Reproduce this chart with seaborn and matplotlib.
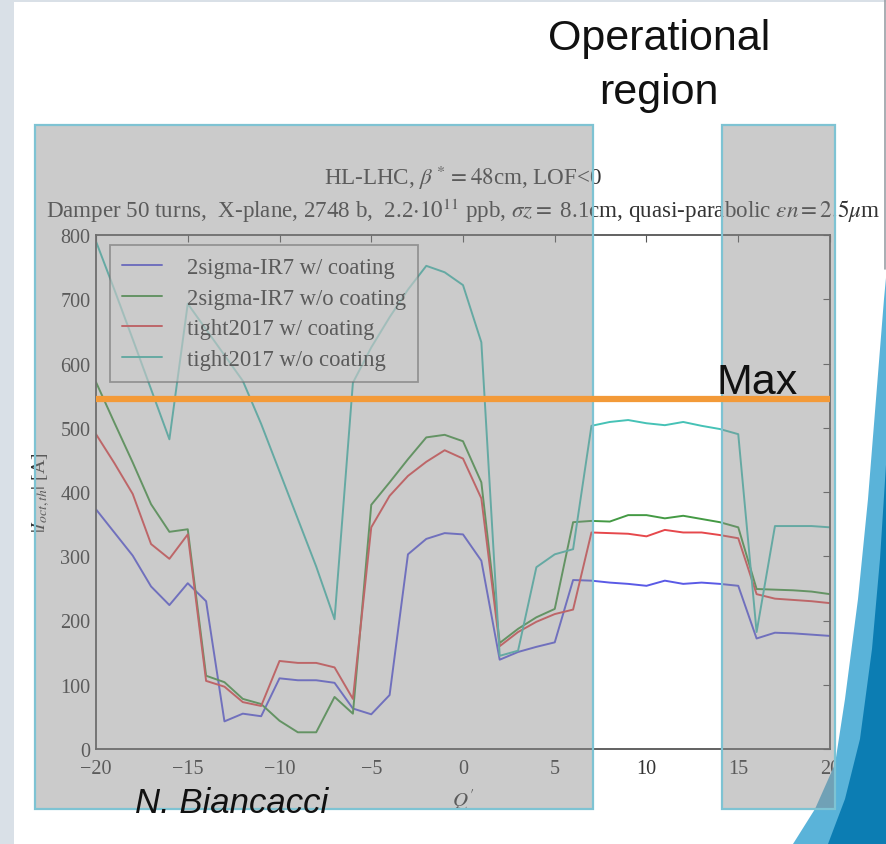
import matplotlib
matplotlib.use("Agg")
import matplotlib.pyplot as plt
import numpy as np
import pandas as pd
import seaborn as sns
from matplotlib.patches import Rectangle, Polygon
from matplotlib.lines import Line2D

# ---------------- data ----------------
q_values = [-20, -19, -18, -17, -16, -15, -14, -13, -12, -11, -10, -9, -8, -7, -6,
            -5, -4, -3, -2, -1, 0, 1, 2, 3, 4, 5, 6, 7, 8, 9, 10, 11, 12, 13, 14,
            15, 16, 17, 18, 19, 20]

ir7_coating = [373, 337, 301, 253, 224, 258, 230, 43, 55, 51, 110, 107, 107, 103, 63,
               54, 84, 303, 327, 336, 334, 293, 139, 151, 159, 166, 263, 262, 259, 257,
               254, 262, 257, 259, 257, 254, 172, 181, 180, 178, 176]

ir7_no_coating = [571, 508, 446, 381, 338, 342, 114, 104, 78, 70, 44, 26, 26, 81, 55,
                  380, 415, 451, 485, 489, 479, 415, 165, 187, 205, 218, 353, 355, 354,
                  364, 364, 359, 363, 358, 353, 345, 249, 248, 247, 245, 241]

tight_coating = [490, 445, 397, 319, 296, 334, 106, 97, 73, 67, 137, 134, 134, 127, 78,
                 345, 394, 425, 447, 465, 452, 390, 160, 182, 198, 210, 217, 337, 336,
                 335, 331, 341, 337, 337, 333, 328, 241, 234, 232, 230, 227]

tight_no_coating = [790, 715, 638, 560, 482, 693, 653, 613, 573, 506, 432, 358, 284, 202,
                    570, 625, 672, 715, 752, 742, 722, 633, 145, 153, 283, 303, 311, 503,
                    509, 512, 507, 504, 509, 503, 498, 490, 182, 347, 347, 347, 345]

series_labels = ["2sigma-IR7 w/ coating", "2sigma-IR7 w/o coating",
                 "tight2017 w/ coating", "tight2017 w/o coating"]
series_colors = ["#5a5ae6", "#449a44", "#e6484c", "#46c2b6"]
x_ticks = [-20, -15, -10, -5, 0, 5, 10, 15, 20]
y_ticks = [0, 100, 200, 300, 400, 500, 600, 700, 800]
max_level = 545

title_line1 = r"HL-LHC, $\beta^* = 48$cm, LOF<0"
title_line2 = (r"Damper 50 turns,  X-plane, 2748 b,  2.2$\cdot10^{11}$ ppb, "
               r"$\sigma z =$ 8.1cm, quasi-parabolic $\epsilon n = 2.5\mu$m")

# ---------------- styling ----------------
sns.set_theme(style="white")
plt.rcParams.update({
    "font.family": ["Liberation Serif", "DejaVu Serif"],
    "mathtext.fontset": "stix",
    "axes.facecolor": "white",
    "figure.facecolor": "white",
})

W, H = 887, 845
fig = plt.figure(figsize=(W / 100, H / 100), dpi=100)


def fx(px):
    return px / W


def fy(py):
    return 1 - py / H


ax = fig.add_axes([fx(96), fy(750), fx(830) - fx(96), fy(236) - fy(750)])

df = pd.concat([
    pd.DataFrame({"Q": q_values, "I": vals, "series": lab})
    for vals, lab in zip([ir7_coating, ir7_no_coating, tight_coating, tight_no_coating],
                         series_labels)
], ignore_index=True)

sns.lineplot(data=df, x="Q", y="I", hue="series", hue_order=series_labels,
             palette=series_colors, linewidth=1.4, ax=ax, legend=True)

ax.set_xlim(-20, 20)
ax.set_ylim(0, 800)
ax.set_xticks(x_ticks)
ax.set_yticks(y_ticks)
ax.tick_params(direction="in", top=True, right=True, length=5, width=0.8,
               color="#555555", labelcolor="#333333", labelsize=14.5, pad=4)
ax.tick_params(axis="x", pad=7.5)
for s in ax.spines.values():
    s.set_color("#555555")
    s.set_linewidth(1.3)

ax.set_xlabel(r"$Q'$", fontsize=15, color="#333333", labelpad=6)
ax.set_ylabel(r"$|I_{oct,th}|$ [A]", fontsize=14, color="#333333", labelpad=6)

ax.text(0.5, (750 - 178) / 514, title_line1, transform=ax.transAxes, ha="center",
        va="center", fontsize=16.6, color="#333333", clip_on=False)
ax.text(0.5, (750 - 211) / 514, title_line2, transform=ax.transAxes, ha="center",
        va="center", fontsize=16.6, color="#333333", clip_on=False)

handles, labels = ax.get_legend_handles_labels()
leg = ax.legend(handles, labels, loc="upper left", bbox_to_anchor=(0.019, 0.981),
                borderaxespad=0, fontsize=16.3, frameon=True, fancybox=False,
                edgecolor="#555555", framealpha=0.6, handlelength=1.75,
                handletextpad=1.1, borderpad=0.55, labelspacing=0.42)
leg.get_frame().set_linewidth(1.3)
for t in leg.get_texts():
    t.set_color("#333333")
for lh in leg.get_lines():
    lh.set_linewidth(1.4)

# ---------------- slide decoration ----------------
fig.add_artist(Rectangle((0, 0), fx(14), 1, transform=fig.transFigure,
                         facecolor="#d9e0e7", edgecolor="none", zorder=0.5))
fig.add_artist(Rectangle((0, fy(3)), 1, 3 / H, transform=fig.transFigure,
                         facecolor="#d9e0e7", edgecolor="none", zorder=0.5))
fig.add_artist(Line2D([fx(885), fx(885)], [fy(0), fy(270)], transform=fig.transFigure,
                      color="#9aa0a6", lw=1.2, zorder=0.6))

light_pts = [(887, 268), (884, 300), (876, 400), (868, 500), (858, 600), (845, 700),
             (835, 765), (815, 810), (793, 845), (887, 845)]
dark_pts = [(887, 450), (880, 560), (872, 650), (860, 740), (845, 800), (828, 845),
            (887, 845)]
fig.add_artist(Polygon([(fx(x), fy(y)) for x, y in light_pts], closed=True,
                       transform=fig.transFigure, facecolor="#5ab3d9",
                       edgecolor="none", zorder=1))
fig.add_artist(Polygon([(fx(x), fy(y)) for x, y in dark_pts], closed=True,
                       transform=fig.transFigure, facecolor="#0c7db3",
                       edgecolor="none", zorder=1.1))

for x0, x1 in [(35, 593), (722, 835)]:
    fig.add_artist(Rectangle((fx(x0), fy(810)), fx(x1) - fx(x0), fy(126) - fy(810),
                             transform=fig.transFigure,
                             facecolor=(0.55, 0.55, 0.55, 0.45),
                             edgecolor="#7ec3d3", linewidth=1.6, zorder=2))

# orange "Max" line, drawn through the axes data scale
fig.add_artist(Line2D([q_values[0], q_values[-1]], [max_level, max_level],
                      transform=ax.transData, color="#f39a38", lw=4.5,
                      solid_capstyle="butt", zorder=3))

sans = ["Liberation Sans", "DejaVu Sans"]
fig.text(fx(659), fy(50), "Operational", ha="center", va="baseline", fontsize=31,
         family=sans, color="#111111", zorder=4)
fig.text(fx(659), fy(104), "region", ha="center", va="baseline", fontsize=31,
         family=sans, color="#111111", zorder=4)
fig.text(fx(717), fy(394), "Max", ha="left", va="baseline", fontsize=31,
         family=sans, color="#111111", zorder=4)
fig.text(fx(135), fy(813), "N. Biancacci", ha="left", va="baseline", fontsize=25,
         family=sans, style="italic", color="#111111", zorder=4)

fig.savefig("out.png", dpi=100)
